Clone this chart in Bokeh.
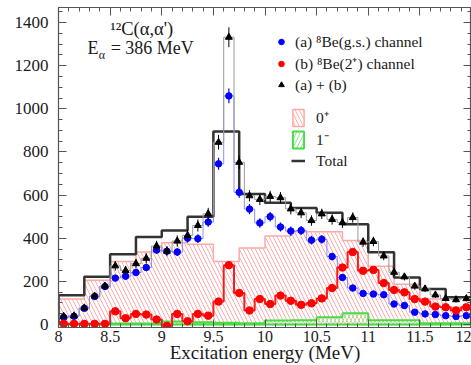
import numpy as np
from bokeh.plotting import figure
from bokeh.models import (Range1d, FixedTicker, LinearAxis, Legend, LegendItem, Label,
                          CustomJSTickFormatter)
from bokeh.embed import file_html
from bokeh.resources import INLINE

# ---------------- data ----------------
energy = [8.05, 8.15, 8.25, 8.35, 8.45, 8.55, 8.65, 8.75, 8.85, 8.95,
          9.05, 9.15, 9.25, 9.35, 9.45, 9.55, 9.65, 9.75, 9.85, 9.95,
          10.05, 10.15, 10.25, 10.35, 10.45, 10.55, 10.65, 10.75, 10.85, 10.95,
          11.05, 11.15, 11.25, 11.35, 11.45, 11.55, 11.65, 11.75, 11.85, 11.95]

chan_a = [33, 38, 75, 130, 176, 215, 224, 241, 264, 345,
          340, 336, 400, 398, 475, 745, 1060, 613, 535, 471,
          500, 452, 433, 436, 391, 395, 315, 218, 169, 144,
          141, 138, 95, 88, 57, 49, 46, 41, 37, 41]
chan_a_err = [8, 8, 10, 12, 14, 15, 15, 16, 16, 18,
              18, 18, 20, 20, 22, 28, 34, 25, 24, 22,
              22, 21, 21, 21, 20, 20, 18, 15, 13, 12,
              12, 12, 10, 10, 8, 7, 7, 7, 6, 7]

chan_b = [3, 3, 3, 3, 3, 61, 29, 49, 46, 23,
          -6, 49, 15, 49, 41, 106, 275, 146, 65, 118,
          95, 134, 110, 91, 98, 121, 169, 264, 336, 249,
          253, 192, 160, 149, 118, 106, 83, 80, 65, 80]

sum_ab = [38, 40, 77, 132, 178, 272, 250, 282, 307, 364,
          340, 387, 413, 459, 513, 845, 1332, 752, 597, 580,
          594, 588, 536, 518, 482, 513, 487, 472, 496, 382,
          385, 318, 242, 221, 178, 165, 137, 121, 115, 120]
sum_ab_err = [10, 10, 14, 16, 18, 22, 22, 22, 24, 24,
              24, 26, 26, 28, 28, 34, 46, 32, 26, 26,
              26, 26, 25, 24, 24, 24, 24, 24, 24, 22,
              22, 20, 18, 17, 16, 15, 14, 13, 13, 13]

bin_lo = [8.0, 8.25, 8.5, 8.75, 9.0, 9.25, 9.5, 9.75,
          10.0, 10.25, 10.5, 10.75, 11.0, 11.25, 11.5, 11.75]
jp_0plus = [118, 205, 292, 336, 379, 372, 292, 355,
            410, 430, 430, 390, 270, 187, 118, 80]
jp_1minus = [0, 0, 5, 5, 14, 10, 8, 6,
             18, 20, 33, 52, 20, 20, 6, 6]
total = [135, 221, 326, 406, 436, 500, 895, 605,
         565, 540, 518, 465, 335, 218, 164, 126]

x_ticks = [8, 8.5, 9, 9.5, 10, 10.5, 11, 11.5, 12]
x_tick_labels = ["8", "8.5", "9", "9.5", "10", "10.5", "11", "11.5", "12"]
y_ticks = [0, 200, 400, 600, 800, 1000, 1200, 1400]
y_tick_labels = ["0", "200", "400", "600", "800", "1000", "1200", "1400"]

# ---------------- helpers ----------------
fine_w = energy[1] - energy[0]
coarse_w = bin_lo[1] - bin_lo[0]


def hist_outline(lo, w, vals, closed=True):
    xs, ys = ([lo[0]], [0]) if closed else ([], [])
    for l, v in zip(lo, vals):
        xs += [l, l + w]
        ys += [v, v]
    if closed:
        xs.append(lo[-1] + w)
        ys.append(0)
    return xs, ys


fine_lo = [e - fine_w / 2 for e in energy]

FONT = "Liberation Serif"
TXT = "#1a1a1a"
AXC = "#555555"
X_MAX = 12.0

p = figure(width=471, height=365, x_range=Range1d(8.0, X_MAX), y_range=Range1d(-14, 1470),
           output_backend="svg", toolbar_location=None,
           min_border_left=58, min_border_right=0, min_border_top=7, min_border_bottom=0)
p.grid.visible = False
p.outline_line_color = AXC
p.outline_line_width = 1.2
p.background_fill_color = "white"

x_minor = list(np.round(np.arange(8.0, 12.0001, 0.1), 2))
y_minor = list(np.arange(0, 1451, 50))

LABEL_JS = """
let best = -1;
for (let i = 0; i < tvals.length; i++) { if (Math.abs(tvals[i] - tick) < 1e-6) { best = i; } }
return best >= 0 ? tlabels[best] : "";
"""


def style_axis(ax, ticks, minor, labels=None, size="16px"):
    ax.ticker = FixedTicker(ticks=ticks, minor_ticks=minor)
    ax.major_tick_in = 8
    ax.major_tick_out = 0
    ax.minor_tick_in = 4
    ax.minor_tick_out = 0
    ax.major_tick_line_color = AXC
    ax.minor_tick_line_color = AXC
    ax.axis_line_color = AXC
    if labels is not None:
        ax.formatter = CustomJSTickFormatter(args=dict(tvals=list(ticks), tlabels=list(labels)),
                                             code=LABEL_JS)
        ax.major_label_text_font = FONT
        ax.major_label_text_font_size = size
        ax.major_label_text_color = TXT
    else:
        ax.formatter = CustomJSTickFormatter(code='return "";')
        ax.major_label_standoff = 0
        ax.axis_label_standoff = 0


style_axis(p.xaxis[0], x_ticks, x_minor, x_tick_labels, "16px")
p.xaxis[0].major_label_standoff = 3
p.xaxis[0].axis_label = "Excitation energy (MeV)"
p.xaxis[0].axis_label_text_font = FONT
p.xaxis[0].axis_label_text_font_size = "19px"
p.xaxis[0].axis_label_text_font_style = "normal"
p.xaxis[0].axis_label_text_color = TXT
p.xaxis[0].axis_label_standoff = -3

style_axis(p.yaxis[0], y_ticks, y_minor, y_tick_labels, "17px")
p.yaxis[0].major_label_standoff = 10

top_ax = LinearAxis()
style_axis(top_ax, x_ticks, x_minor)
p.add_layout(top_ax, "above")

# mirrored ticks on the right edge: an axis kept in the (roomy) left panel,
# drawn at the right edge of the x range, ticks pointing into the frame
right_ax = LinearAxis(fixed_location=X_MAX)
style_axis(right_ax, y_ticks, y_minor)
right_ax.major_tick_in = 0
right_ax.major_tick_out = 8
right_ax.minor_tick_in = 0
right_ax.minor_tick_out = 4
p.add_layout(right_ax, "left")

# ---------------- histograms ----------------
xs0, ys0 = hist_outline(bin_lo, coarse_w, jp_0plus)
r0 = p.patch(xs0, ys0, fill_color=None, line_color="#ffa8a8", line_width=1.5,
             hatch_pattern="left_diagonal_line", hatch_color="#ff9c9c",
             hatch_weight=1, hatch_scale=8, hatch_alpha=0.85)

xs1, ys1 = hist_outline(bin_lo, coarse_w, jp_1minus)
r1 = p.patch(xs1, ys1, fill_color=None, line_color="#44dd44", line_width=2,
             hatch_pattern="right_diagonal_line", hatch_color="#88ee88",
             hatch_weight=1, hatch_scale=8)

xst, yst = hist_outline(bin_lo, coarse_w, total)
rt = p.line(xst, yst, line_color="#333333", line_width=2.5)

# thin step histograms behind points
xb, yb = hist_outline(fine_lo, fine_w, chan_a, closed=False)
p.line(xb, yb, line_color="#6f6fff", line_width=1, line_alpha=0.8)
xs_, ys_ = hist_outline(fine_lo, fine_w, sum_ab, closed=False)
p.line(xs_, ys_, line_color="#9a9a9a", line_width=1)
xr, yr = hist_outline(fine_lo, fine_w, chan_b, closed=False)
p.line(xr, yr, line_color="#ff1a1a", line_width=2)

# ---------------- points ----------------
a_lo = [v - e for v, e in zip(chan_a, chan_a_err)]
a_hi = [v + e for v, e in zip(chan_a, chan_a_err)]
p.segment(energy, a_lo, energy, a_hi, line_color="#0000ff", line_width=1.2)
ra = p.scatter(energy, chan_a, marker="circle", size=6.5, color="#0000ff")

rb = p.scatter(energy, chan_b, marker="circle", size=7.5, color="#ff0000")

s_lo = [v - e for v, e in zip(sum_ab, sum_ab_err)]
s_hi = [v + e for v, e in zip(sum_ab, sum_ab_err)]
p.segment(energy, s_lo, energy, s_hi, line_color="#000000", line_width=1)
rs = p.scatter(energy, sum_ab, marker="triangle", size=7, color="#000000")

# ---------------- legends ----------------
leg1 = Legend(items=[LegendItem(label="(a) \u2078Be(g.s.) channel", renderers=[ra]),
                     LegendItem(label="(b) \u2078Be(2\u207a) channel", renderers=[rb]),
                     LegendItem(label="(a) + (b)", renderers=[rs])],
              location=(216, 232), orientation="vertical")
leg2 = Legend(items=[LegendItem(label="0\u207a", renderers=[r0]),
                     LegendItem(label="1\u207b", renderers=[r1]),
                     LegendItem(label="Total", renderers=[rt])],
              location=(233, 156), orientation="vertical")
for lg, gw, so in ((leg1, 14, 7), (leg2, 14, 11)):
    lg.background_fill_alpha = 0
    lg.border_line_color = None
    lg.label_text_font = FONT
    lg.label_text_font_size = "15.5px"
    lg.label_text_color = TXT
    lg.glyph_width = gw
    lg.glyph_height = 21
    lg.label_height = 21
    lg.label_standoff = so
    lg.spacing = 0
    lg.padding = 0
    lg.margin = 0
    p.add_layout(lg, "center")

# ---------------- annotations ----------------
p.add_layout(Label(x=8.806, y=1372, text="\u00b9\u00b2C(\u03b1,\u03b1')", text_font=FONT,
                   text_font_size="18.5px", text_color=TXT, text_align="center",
                   text_baseline="middle"))
p.add_layout(Label(x=8.282, y=1280, text="E", text_font=FONT, text_font_size="18px",
                   text_color=TXT, text_align="left", text_baseline="middle"))
p.add_layout(Label(x=8.39, y=1250, text="\u03b1", text_font=FONT, text_font_size="12px",
                   text_color=TXT, text_align="left", text_baseline="middle"))
p.add_layout(Label(x=8.505, y=1280, text="= 386 MeV", text_font=FONT, text_font_size="18px",
                   text_color=TXT, text_align="left", text_baseline="middle"))

open("out.html", "w").write(file_html(p, INLINE))
